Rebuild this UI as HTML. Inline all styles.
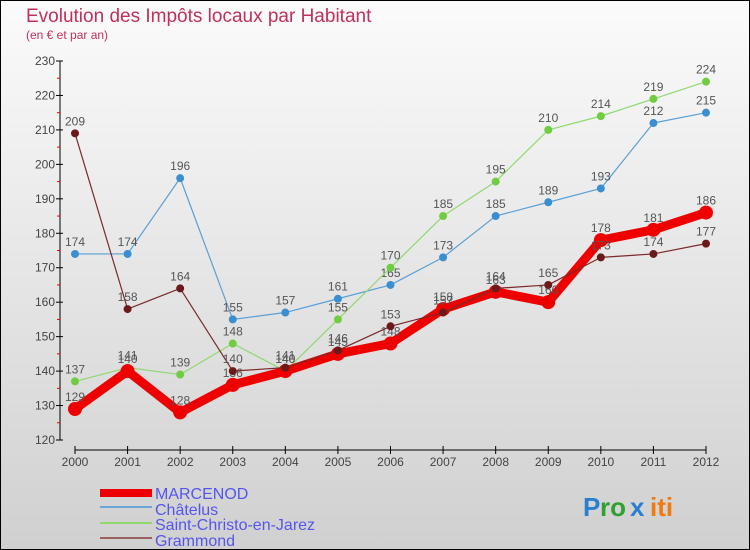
<!DOCTYPE html>
<html><head><meta charset="utf-8"><style>
body{margin:0;}
#wrap{width:750px;height:550px;position:relative;overflow:hidden;font-family:"Liberation Sans",sans-serif;}
</style></head><body>
<div id="wrap">
<svg id="svg" width="750" height="550" xmlns="http://www.w3.org/2000/svg">
<defs><linearGradient id="bg" x1="0" y1="0" x2="0" y2="1"><stop offset="0" stop-color="#fbfbfb"/><stop offset="1" stop-color="#d0d0d0"/></linearGradient></defs>
<rect x="0.5" y="0.5" width="749" height="549" fill="url(#bg)" stroke="#000"/>
<text x="26" y="22" font-size="19" fill="#c0305a">Evolution des Impôts locaux par Habitant</text>
<text x="26" y="39" font-size="12" fill="#c0305a">(en € et par an)</text>
<g id="axes"></g><g id="series"></g>
<g font-size="16" fill="#5555ee">
<rect x="100" y="489" width="52" height="8" fill="#e00"/>
<text x="155" y="499">MARCENOD</text>
<rect x="100" y="506" width="52" height="2" fill="#6ca6d6"/>
<text x="155" y="515">Châtelus</text>
<rect x="100" y="522" width="52" height="2" fill="#8fd870"/>
<text x="155" y="530">Saint-Christo-en-Jarez</text>
<rect x="100" y="537" width="52" height="2" fill="#9a6060"/>
<text x="155" y="546">Grammond</text>
</g>
<g font-size="26" font-weight="bold">
<text x="583" y="516" fill="#2a7fd0">P</text><text x="600" y="516" fill="#30a030">ro</text><text x="630" y="516" fill="#2a7fd0">x</text><text x="650" y="516" fill="#f07a10">iti</text>
</g>
</svg></div>
<script>
const years=[2000,2001,2002,2003,2004,2005,2006,2007,2008,2009,2010,2011,2012];
const yTicks=[120,130,140,150,160,170,180,190,200,210,220,230];
const marcenod=[129,140,128,136,140,145,148,158,163,160,178,181,186];
const chatelus=[174,174,196,155,157,161,165,173,185,189,193,212,215];
const saintChristo=[137,141,139,148,140,155,170,185,195,210,214,219,224];
const grammond=[209,158,164,140,141,146,153,157,164,165,173,174,177];
const NS="http://www.w3.org/2000/svg";
const X=i=>75+i*(706-75)/12;
const Y=v=>440-(v-120)*(440-61)/110;
function mk(tag,attrs,parent){const e=document.createElementNS(NS,tag);for(const k in attrs)e.setAttribute(k,attrs[k]);parent.appendChild(e);return e;}
const ax=document.getElementById('axes');
const yl=mk('line',{x1:60,y1:Y(230),x2:60,y2:Y(120),stroke:'#000'},ax);


yTicks.forEach(t=>{
 mk('line',{x1:56,x2:63,y1:Y(t),y2:Y(t),stroke:'#000'},ax);
 if(t<230)mk('line',{x1:57,x2:60,y1:Y(t+5),y2:Y(t+5),stroke:'#e00'},ax);
 const tx=mk('text',{x:55,y:Y(t)+4,'font-size':12,fill:'#444','text-anchor':'end'},ax);tx.textContent=t;
 
 
});
const xl=mk('line',{x1:75,y1:450,x2:706,y2:450,stroke:'#000'},ax);


years.forEach((yr,i)=>{
 mk('line',{x1:X(i),x2:X(i),y1:446,y2:454,stroke:'#000'},ax);
 const tx=mk('text',{x:X(i),y:466,'font-size':12,fill:'#444','text-anchor':'middle'},ax);tx.textContent=yr;
 
 
});
const sg=document.getElementById('series');
function series(data,name,color,dot,w,r){
 const g=mk('g',{},sg);
 
 
 mk('polyline',{points:data.map((v,i)=>X(i)+','+Y(v)).join(' '),fill:'none',stroke:color,'stroke-width':w,'stroke-linejoin':'round'},g);
 data.forEach((v,i)=>{
  const c=mk('circle',{cx:X(i),cy:Y(v),r:r,fill:dot},g);
  
  
  const t=mk('text',{x:X(i),y:Y(v)-8,'font-size':12,fill:'#555','text-anchor':'middle'},g);t.textContent=v;
  
  
 });
}
series(chatelus,'chatelus','#5a9fd6','#3b8ed0',1.2,4);
series(saintChristo,'saint-christo','#90d870','#70cc40',1.2,4);
series(marcenod,'marcenod','#ee0000','#ee0000',9,7);
series(grammond,'grammond','#7a2a2a','#6a1a1a',1.2,4);
</script>
</body></html>
